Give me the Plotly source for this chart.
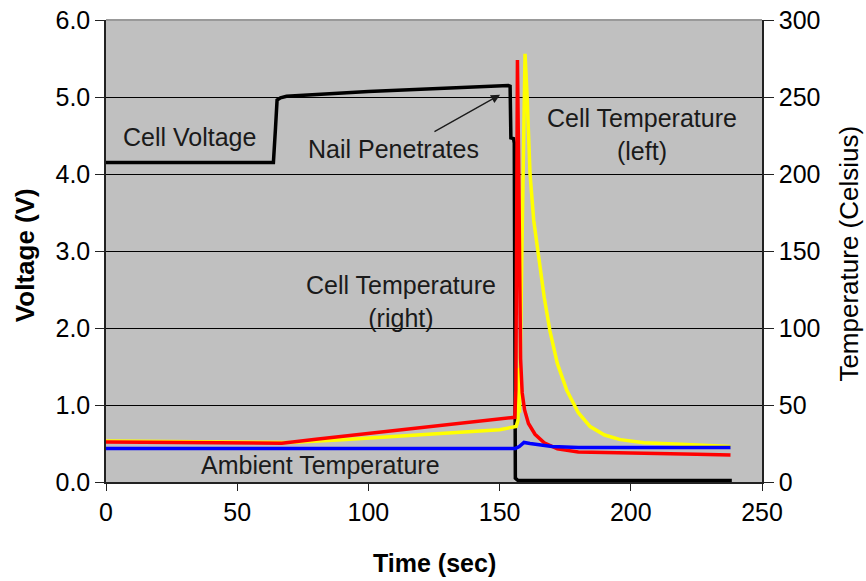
import plotly.graph_objects as go

# ---- data ----
volt_time = [0, 63.8, 64.6, 65.2, 66.5, 68.8, 100, 130, 153.3, 154.0, 154.3, 155.3, 155.6, 156.0, 157.0, 180, 210, 238.5]
volt_vals = [4.15, 4.15, 4.6, 4.96, 4.99, 5.01, 5.07, 5.12, 5.15, 5.14, 4.47, 4.46, 4.40, 0.05, 0.02, 0.02, 0.02, 0.02]

red_time = [0, 20, 40, 60, 67, 80, 100, 120, 140, 155.8, 156.2, 156.8, 157.3, 157.6, 158.0, 158.6, 159.5,
            161, 163.5, 167, 172, 180, 195, 210, 225, 238]
red_vals = [26, 25.8, 25.5, 25.3, 25.2, 27.7, 31.4, 35.2, 39, 42, 60, 274, 200, 120, 80, 58, 47,
            38, 31, 25.5, 21.5, 19.5, 18.8, 18.5, 18, 17.5]

yel_time = [0, 20, 40, 60, 70, 90, 110, 130, 150, 156.3, 157.0, 157.3, 157.6, 158.5, 159.7, 160.5, 161.6,
            163, 164.8, 167, 169.2, 172, 175.6, 180, 184.5, 190, 196, 205, 219, 230, 238]
yel_vals = [26.6, 26.3, 26.0, 25.8, 25.6, 27.5, 29.5, 31.5, 34, 36, 40, 74, 45, 150, 278, 250, 200,
            170, 148, 120, 98, 77, 59.5, 45, 36, 30.5, 27.5, 25.5, 24.5, 23.5, 23]

blue_time = [0, 30, 60, 90, 120, 150, 156, 157.5, 159.3, 161.6, 165, 170, 180, 200, 220, 238]
blue_vals = [21.8, 21.9, 21.7, 22, 21.9, 22, 21.8, 23, 25.7, 25, 24, 23, 22.4, 22.5, 22.6, 22.4]

x_ticks = [0, 50, 100, 150, 200, 250]
v_ticks = [0, 1, 2, 3, 4, 5, 6]
v_tick_text = ["0.0", "1.0", "2.0", "3.0", "4.0", "5.0", "6.0"]
t_ticks = [0, 50, 100, 150, 200, 250, 300]

FONT = "Liberation Sans, Arial, sans-serif"

fig = go.Figure()
fig.add_trace(go.Scatter(x=volt_time, y=volt_vals, mode="lines", line=dict(color="black", width=3.5),
                         yaxis="y", showlegend=False))
fig.add_trace(go.Scatter(x=yel_time, y=yel_vals, mode="lines", line=dict(color="#ffff00", width=3.5),
                         yaxis="y2", showlegend=False))
fig.add_trace(go.Scatter(x=red_time, y=red_vals, mode="lines", line=dict(color="#ff0000", width=3.5),
                         yaxis="y2", showlegend=False))
fig.add_trace(go.Scatter(x=blue_time, y=blue_vals, mode="lines", line=dict(color="#0000ff", width=3.5),
                         yaxis="y2", showlegend=False))

ann_font = dict(family=FONT, size=25, color="#1a1a1a")
annotations = [
    dict(x=32.0, y=4.48, xref="x", yref="y", text="Cell Voltage", showarrow=False, font=ann_font),
    dict(x=109.4, y=4.32, xref="x", yref="y", text="Nail Penetrates", showarrow=False, font=ann_font),
    dict(x=204.3, y=4.51, xref="x", yref="y", text="Cell Temperature<br>(left)", showarrow=False, font=ann_font),
    dict(x=112.4, y=2.35, xref="x", yref="y", text="Cell Temperature<br>(right)", showarrow=False, font=ann_font),
    dict(x=81.6, y=0.22, xref="x", yref="y", text="Ambient Temperature", showarrow=False, font=ann_font),
    dict(x=150.2, y=5.03, xref="x", yref="y", ax=124.6, ay=4.54, axref="x", ayref="y", text="",
         showarrow=True, arrowhead=2, arrowsize=1.4, arrowwidth=1.3, arrowcolor="#1a1a1a"),
    dict(x=0.5, y=-0.175, xref="paper", yref="paper", text="<b>Time (sec)</b>", showarrow=False,
         xanchor="center", yanchor="middle", font=dict(family=FONT, size=25, color="black")),
    dict(x=-0.1235, y=0.491, xref="paper", yref="paper", text="<b>Voltage (V)</b>", showarrow=False,
         xanchor="center", yanchor="middle", textangle=-90, font=dict(family=FONT, size=26, color="black")),
    dict(x=1.132, y=0.4935, xref="paper", yref="paper", text="Temperature (Celsius)", showarrow=False,
         xanchor="center", yanchor="middle", textangle=-90, font=dict(family=FONT, size=26, color="black")),
]

tick_font = dict(family=FONT, size=25, color="black")
fig.update_layout(
    width=866, height=581,
    margin=dict(l=106, r=104, t=20, b=99, autoexpand=False),
    paper_bgcolor="white",
    plot_bgcolor="#c0c0c0",
    xaxis=dict(range=[0, 250], tickvals=x_ticks, ticks="outside", ticklen=7, tickcolor="#222",
               showline=True, linecolor="#222", linewidth=1.5, showgrid=False, zeroline=False,
               tickfont=tick_font, automargin=False),
    yaxis=dict(range=[0, 6], tickvals=v_ticks, ticktext=v_tick_text, ticks="outside", ticklen=9,
               tickcolor="#222", showline=True, linecolor="#222", linewidth=1.5,
               showgrid=True, gridcolor="black", gridwidth=1, zeroline=False, tickfont=tick_font,
               automargin=False),
    yaxis2=dict(range=[0, 300], tickvals=t_ticks, overlaying="y", side="right", ticks="outside",
                ticklen=10, tickcolor="#222", showline=True, linecolor="#222", linewidth=1.5,
                showgrid=False, zeroline=False, tickfont=tick_font, automargin=False),
    annotations=annotations,
    shapes=[dict(type="line", xref="paper", yref="paper", x0=0, x1=1, y0=1, y1=1,
                 line=dict(color="#999999", width=2))],
)

fig.write_html("out.html", config={"displayModeBar": False},
               post_script="document.body.style.margin='0';document.body.style.padding='0';")
